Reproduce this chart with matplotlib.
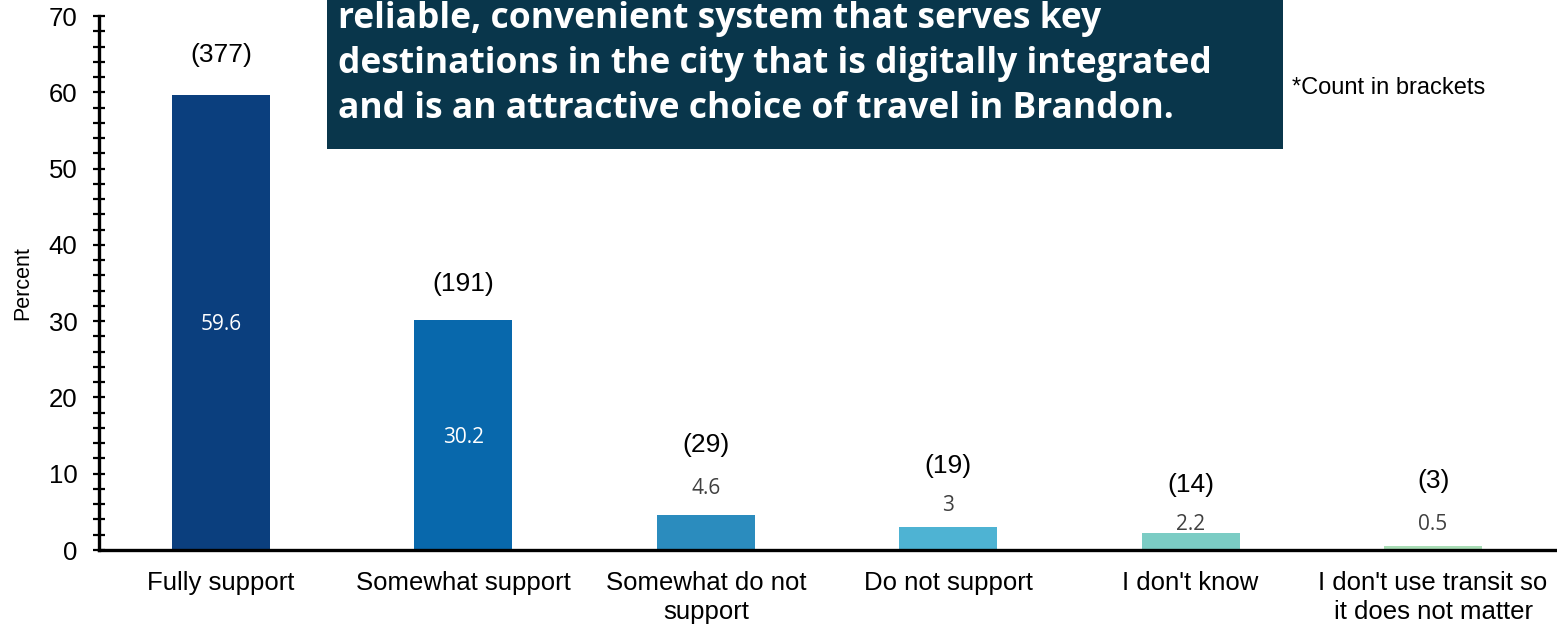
import matplotlib
matplotlib.use("Agg")
import matplotlib.pyplot as plt
from matplotlib.ticker import MultipleLocator
from matplotlib.patches import Rectangle

# Survey results
categories = [
    "Fully support",
    "Somewhat support",
    "Somewhat do not\nsupport",
    "Do not support",
    "I don't know",
    "I don't use transit so\nit does not matter",
]
percents = [59.6, 30.2, 4.6, 3, 2.2, 0.5]
counts = [377, 191, 29, 19, 14, 3]
value_labels = ["59.6", "30.2", "4.6", "3", "2.2", "0.5"]

# Layout of the annotations (in data units)
value_label_y = [29.5, 14.8, 8.1, 5.8, 3.4, 3.4]
count_label_y = [64.9, 34.9, 13.8, 11.0, 8.5, 9.0]
inside = [True, True, False, False, False, False]

colors = ["#0b3f7e", "#0868ac", "#2b8cbe", "#4eb3d3", "#7bccc4", "#a8ddb5"]

plt.rcParams["font.family"] = ["Liberation Sans", "DejaVu Sans"]

fig = plt.figure(figsize=(15.57, 6.25), dpi=100)
ax = fig.add_axes([99 / 1557, 1 - 550 / 625, (1556 - 99) / 1557, 534 / 625])

x = list(range(len(categories)))
ax.bar(x, percents, width=0.405, color=colors, zorder=2)

ax.set_xlim(-0.503, 5.507)
ax.set_ylim(0, 70)
ax.yaxis.set_major_locator(MultipleLocator(10))
ax.yaxis.set_minor_locator(MultipleLocator(2))
ax.set_xticks(x)
ax.set_xticklabels(categories, fontsize=18.5, linespacing=1.25)
ax.tick_params(axis="x", length=0, pad=15)
ax.tick_params(axis="y", which="both", direction="inout", width=1.6,
               labelsize=18.5, pad=11)
ax.tick_params(axis="y", which="major", length=9)
ax.tick_params(axis="y", which="minor", length=9)

for side in ("top", "right"):
    ax.spines[side].set_visible(False)
for side in ("left", "bottom"):
    ax.spines[side].set_linewidth(2.4)
    ax.spines[side].set_zorder(3)

ax.set_ylabel("Percent", fontsize=15.5)
ax.yaxis.set_label_coords(33 / 1557, 1 - 283 / 625, transform=fig.transFigure)

for xi, lab, vy, ins, cy, n in zip(x, value_labels, value_label_y, inside,
                                   count_label_y, counts):
    ax.text(xi, vy, lab, ha="center", va="center", fontsize=15,
            family=["Open Sans", "DejaVu Sans"],
            color="white" if ins else "#404040", zorder=4)
    ax.text(xi, cy, f"({n})", ha="center", va="center", fontsize=19,
            color="black", zorder=4)

# Banner with the survey statement
fig.patches.append(Rectangle((327 / 1557, 1 - 149 / 625), (1283 - 327) / 1557,
                             149 / 625 + 0.01, transform=fig.transFigure,
                             facecolor="#09364b", edgecolor="none", zorder=5))
banner_lines = [
    ("reliable, convenient system that serves key", 28),
    ("destinations in the city that is digitally integrated", 73),
    ("and is an attractive choice of travel in Brandon.", 118),
]
for text, ypix in banner_lines:
    fig.text(338 / 1557, 1 - ypix / 625, text, ha="left", va="baseline",
             fontsize=25.5, fontweight="bold", color="white",
             family=["Open Sans", "DejaVu Sans"], zorder=6)

fig.text(1292 / 1557, 1 - 88 / 625, "*Count in brackets", ha="left",
         va="center", fontsize=17, color="black")

fig.savefig("out.png", dpi=100)
